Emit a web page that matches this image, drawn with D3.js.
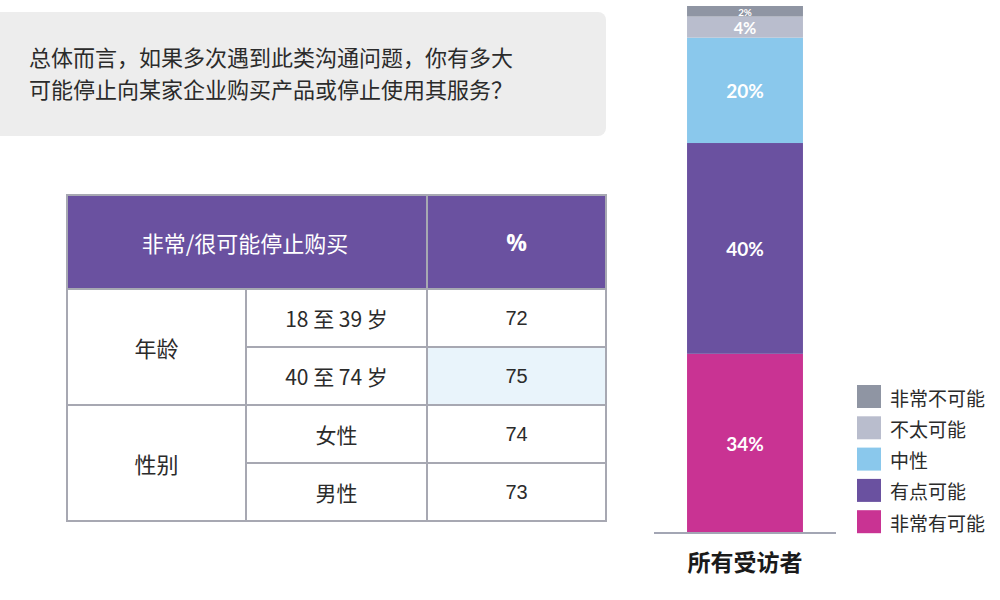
<!DOCTYPE html>
<html><head><meta charset="utf-8">
<script src="https://cdn.jsdelivr.net/npm/d3@7"></script>
<style>body{margin:0;background:#fff;}svg{display:block;}</style>
</head><body>
<svg id="c" width="1000" height="600"></svg>
<script>
// ---- data ----
const titleLines = ["总体而言，如果多次遇到此类沟通问题，你有多大", "可能停止向某家企业购买产品或停止使用其服务？"];
const tableHeader = ["非常/很可能停止购买", "%"];
const groups = ["年龄", "性别"];
const subgroups = ["18 至 39 岁", "40 至 74 岁", "女性", "男性"];
const subgroupOf = ["年龄", "年龄", "性别", "性别"];
const tableValues = [72, 75, 74, 73];
const highlightedRow = 1;
const categories = ["非常有可能", "有点可能", "中性", "不太可能", "非常不可能"]; // bottom to top
const shares = [34, 40, 20, 4, 2];
const colors = ["#c93393", "#6a51a0", "#8ac8ec", "#b9bdcd", "#8f95a3"];
const barLabel = "所有受访者";

const svg = d3.select("#c");
const font = "'Noto Sans CJK SC','Noto Sans',sans-serif";
const txt = "#2b2b2b";

// ---- title box ----
svg.append("rect").attr("x", -12).attr("y", 12).attr("width", 618).attr("height", 124)
  .attr("rx", 8).attr("fill", "#ededed");
svg.selectAll("text.title").data(titleLines).join("text")
  .attr("x", 29).attr("y", (d, i) => 56 + i * 32).attr("dominant-baseline", "central")
  .attr("font-family", font).attr("font-size", 22).attr("fill", txt).text(d => d);

// ---- table ----
const colX = [67, 246, 427, 606];
const headTop = 195, headBot = 289, rowH = 58;
const rowY = d3.scaleBand().domain(d3.range(subgroups.length)).range([headBot, headBot + rowH * subgroups.length]);
const border = "#a7a8b2";
const tg = svg.append("g");
tg.append("rect").attr("x", colX[0]).attr("y", headTop).attr("width", colX[3] - colX[0]).attr("height", headBot - headTop).attr("fill", "#6a51a0");
tg.append("rect").attr("x", colX[2]).attr("y", rowY(highlightedRow)).attr("width", colX[3] - colX[2]).attr("height", rowY.bandwidth()).attr("fill", "#e9f4fb");
tg.append("text").attr("x", (colX[0] + colX[2]) / 2 - 2).attr("y", (headTop + headBot) / 2)
  .attr("text-anchor", "middle").attr("dominant-baseline", "central").attr("font-family", font)
  .attr("font-size", 22).attr("fill", "#fff").text(tableHeader[0]);
tg.append("text").attr("x", (colX[2] + colX[3]) / 2).attr("y", (headTop + headBot) / 2)
  .attr("text-anchor", "middle").attr("dominant-baseline", "central").attr("font-family", "'Open Sans',sans-serif")
  .attr("font-weight", "bold").attr("font-size", 23).attr("fill", "#fff").text(tableHeader[1]);
groups.forEach(g => {
  const idx = subgroupOf.map((s, i) => s === g ? i : -1).filter(i => i >= 0);
  const y0 = rowY(idx[0]), y1 = rowY(idx[idx.length - 1]) + rowY.bandwidth();
  tg.append("text").attr("x", (colX[0] + colX[1]) / 2).attr("y", (y0 + y1) / 2)
    .attr("text-anchor", "middle").attr("dominant-baseline", "central").attr("font-family", font)
    .attr("font-size", 22).attr("fill", txt).text(g);
  tg.append("line").attr("x1", colX[0]).attr("x2", colX[3]).attr("y1", y1).attr("y2", y1).attr("stroke", border).attr("stroke-width", 2);
});
subgroups.forEach((s, i) => {
  const y = rowY(i) + rowY.bandwidth() / 2;
  tg.append("text").attr("x", (colX[1] + colX[2]) / 2).attr("y", y)
    .attr("text-anchor", "middle").attr("dominant-baseline", "central").attr("font-family", font)
    .attr("font-size", 21).attr("fill", txt).text(s);
  tg.append("text").attr("x", (colX[2] + colX[3]) / 2).attr("y", y)
    .attr("text-anchor", "middle").attr("dominant-baseline", "central").attr("font-family", "'Liberation Sans',Arial,sans-serif")
    .attr("font-size", 20).attr("fill", txt).text(tableValues[i]);
  if (i < subgroups.length - 1)
    tg.append("line").attr("x1", colX[1]).attr("x2", colX[3]).attr("y1", rowY(i) + rowY.bandwidth()).attr("y2", rowY(i) + rowY.bandwidth()).attr("stroke", border).attr("stroke-width", 2);
});
const tBot = rowY(subgroups.length - 1) + rowY.bandwidth();
tg.append("line").attr("x1", colX[0]).attr("x2", colX[3]).attr("y1", headBot).attr("y2", headBot).attr("stroke", border).attr("stroke-width", 2);
tg.append("line").attr("x1", colX[1]).attr("x2", colX[1]).attr("y1", headBot).attr("y2", tBot).attr("stroke", border).attr("stroke-width", 2);
tg.append("line").attr("x1", colX[2]).attr("x2", colX[2]).attr("y1", headTop).attr("y2", tBot).attr("stroke", border).attr("stroke-width", 2);
tg.append("rect").attr("x", colX[0]).attr("y", headTop).attr("width", colX[3] - colX[0]).attr("height", tBot - headTop)
  .attr("fill", "none").attr("stroke", border).attr("stroke-width", 2);

// ---- stacked bar ----
const base = 533;
const x = d3.scaleBand().domain([barLabel]).range([654, 836]).paddingInner(0).paddingOuter(0.285);
const y = d3.scaleLinear().domain([0, d3.sum(shares)]).range([base, 6]);
const stackData = [Object.fromEntries(categories.map((c, i) => [c, shares[i]]))];
const series = d3.stack().keys(categories)(stackData);
const segH = d => y(d[0][0]) - y(d[0][1]);
const bg = svg.append("g");
bg.selectAll("rect").data(series).join("rect")
  .attr("x", x(barLabel)).attr("width", x.bandwidth())
  .attr("y", d => y(d[0][1])).attr("height", segH)
  .attr("fill", (d, i) => colors[i]);
bg.selectAll("text").data(series).join("text")
  .attr("x", x(barLabel) + x.bandwidth() / 2).attr("y", d => (y(d[0][0]) + y(d[0][1])) / 2 + 0.5)
  .attr("text-anchor", "middle").attr("dominant-baseline", "central")
  .attr("font-family", "Lato,'Open Sans',sans-serif").attr("font-weight", "bold")
  .attr("font-size", d => Math.min(19, 0.6 * segH(d) + 3.5))
  .attr("fill", "#fff").text((d, i) => shares[i] + "%");
const xAxis = svg.append("g").attr("transform", `translate(0,${base})`).call(d3.axisBottom(x).tickSize(0));
xAxis.select(".domain").attr("stroke", "#a3a6b4").attr("stroke-width", 2).attr("d", "M654,0H836");
xAxis.selectAll("text").attr("font-family", font).attr("font-weight", "bold").attr("font-size", 23).attr("fill", "#1a1a1a").attr("dy", "0.35em").attr("y", 30);

// ---- legend ----
const lg = svg.append("g");
const legendOrder = d3.range(categories.length).reverse();
legendOrder.forEach((ci, k) => {
  const yy = 385 + k * 31.3;
  lg.append("rect").attr("x", 857).attr("y", yy).attr("width", 24).attr("height", 23).attr("fill", colors[ci]);
  lg.append("text").attr("x", 890).attr("y", yy + 12).attr("dominant-baseline", "central")
    .attr("font-family", font).attr("font-size", 19).attr("fill", txt).text(categories[ci]);
});
</script>
</body></html>
